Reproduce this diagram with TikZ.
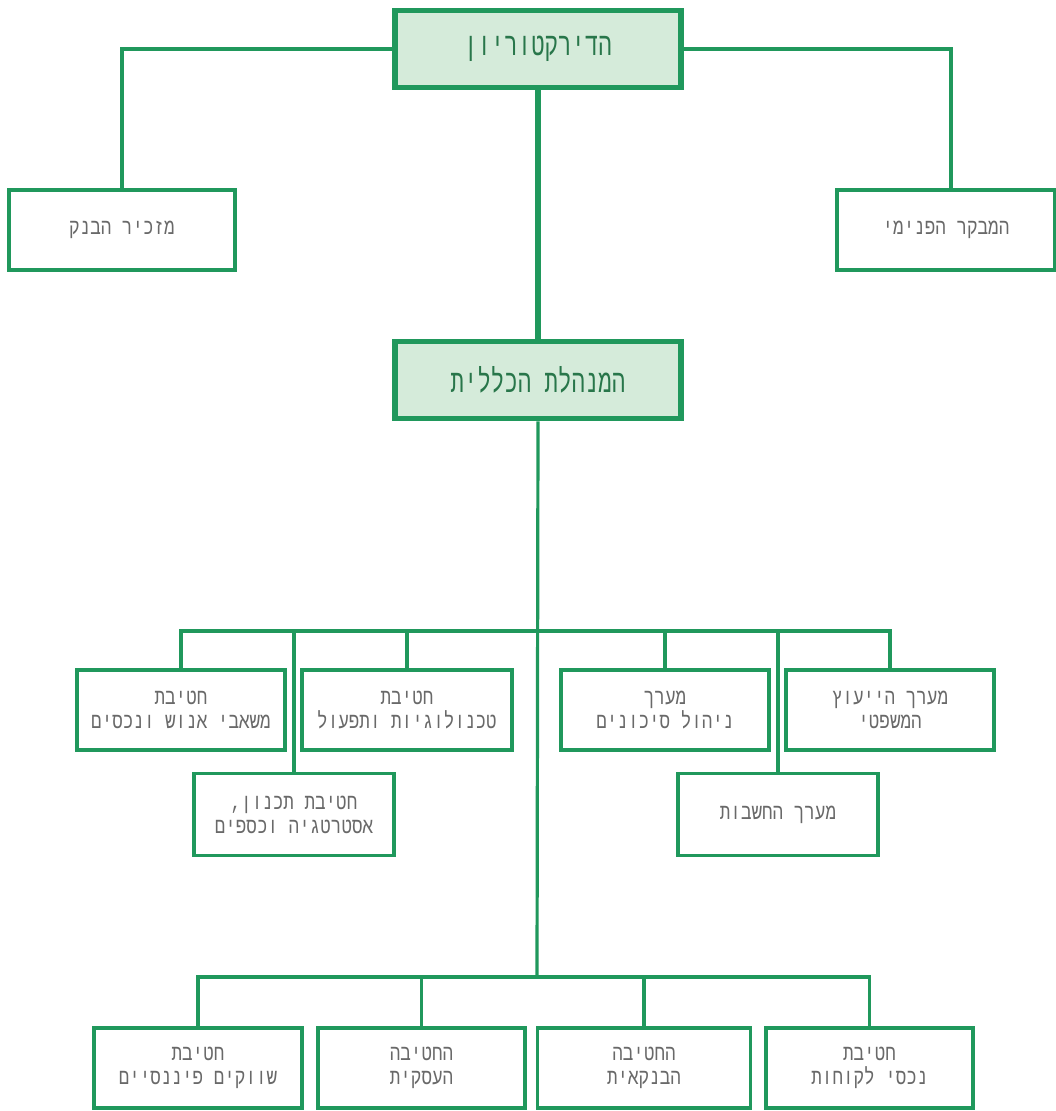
\documentclass[tikz,border=0pt]{standalone}
\usepackage{fontspec}
\TeXXeTstate=1
\newfontfamily\heb[Script=Hebrew,FakeStretch=0.8]{Liberation Mono}
\newfontfamily\hebtop[Script=Hebrew,FakeStretch=0.7]{Liberation Mono}
\definecolor{lgreen}{RGB}{32,152,92}
\definecolor{lfill}{RGB}{213,235,218}
\definecolor{toptext}{RGB}{40,118,74}
\definecolor{bodytext}{RGB}{105,105,105}
\tikzset{
  unitbox/.style={draw=lgreen, line width=3.4pt, fill=white, align=center, inner sep=0pt,
     font=\heb\fontsize{22}{24}\selectfont, text=bodytext},
  topbox/.style={draw=lgreen, line width=5.5pt, fill=lfill, align=center, inner sep=0pt,
     minimum width=286pt, minimum height=77pt,
     font=\hebtop\fontsize{32}{34}\selectfont, text=toptext},
  link/.style={draw=lgreen, line width=3.2pt},
  mainlink/.style={draw=lgreen, line width=5.5pt},
}
\begin{document}
\begin{tikzpicture}[x=1pt,y=-1pt]
\useasboundingbox (0,0) rectangle (1056,1111);
% top level
\node[topbox] (dir) at (538,49) {\beginR הדירקטוריון\endR};
\node[topbox] (gm) at (538,380) {\beginR המנהלת הכללית\endR};
\node[unitbox, minimum width=226pt, minimum height=80pt] (sec) at (122,230) {\beginR מזכיר הבנק\endR};
\node[unitbox, minimum width=218pt, minimum height=80pt] (aud) at (946,230) {\beginR המבקר הפנימי\endR};
\coordinate (audtop) at (951,190);
% middle row
\node[unitbox, minimum width=208pt, minimum height=80pt] (hr) at (181,710) {\beginR חטיבת\endR\\\beginR משאבי אנוש ונכסים\endR};
\node[unitbox, minimum width=210pt, minimum height=80pt] (tech) at (407,710) {\beginR חטיבת\endR\\\beginR טכנולוגיות ותפעול\endR};
\node[unitbox, minimum width=208pt, minimum height=80pt] (risk) at (665,710) {\beginR מערך\endR\\\beginR ניהול סיכונים\endR};
\node[unitbox, minimum width=208pt, minimum height=80pt] (legal) at (890,710) {\beginR מערך הייעוץ\endR\\\beginR המשפטי\endR};
\node[unitbox, minimum width=200pt, minimum height=82pt] (plan) at (294,814.5) {\beginR חטיבת תכנון,\endR\\\beginR אסטרטגיה וכספים\endR};
\node[unitbox, minimum width=200pt, minimum height=82pt] (acc) at (778,814.5) {\beginR מערך החשבות\endR};
% bottom row
\node[unitbox, minimum width=208pt, minimum height=80pt] (fin) at (198,1068) {\beginR חטיבת\endR\\\beginR שווקים פיננסיים\endR};
\node[unitbox, minimum width=207pt, minimum height=80pt] (biz) at (421.5,1068) {\beginR החטיבה\endR\\\beginR העסקית\endR};
\node[unitbox, minimum width=213pt, minimum height=80pt] (bank) at (644,1068) {\beginR החטיבה\endR\\\beginR הבנקאית\endR};
\node[unitbox, minimum width=207pt, minimum height=80pt] (cust) at (869.5,1068) {\beginR חטיבת\endR\\\beginR נכסי לקוחות\endR};
% bus coordinates
\coordinate (bus1) at (537,631);
\coordinate (bus2) at (537,977);
% connectors
\draw[link] (dir.west) -| (sec.north);
\draw[link] (dir.east) -| (audtop);
\draw[mainlink] (dir.south) -- (gm.north);
\draw[link] (gm.south) -- (bus2);
\draw[link] (hr.north) |- (bus1) -| (legal.north);
\draw[link] (tech.north) -- (tech.north |- bus1);
\draw[link] (plan.north) -- (plan.north |- bus1);
\draw[link] (risk.north) -- (risk.north |- bus1);
\draw[link] (acc.north) -- (acc.north |- bus1);
\draw[link] (fin.north) |- (bus2) -| (cust.north);
\draw[link] (biz.north) -- (biz.north |- bus2);
\draw[link] (bank.north) -- (bank.north |- bus2);
\end{tikzpicture}
\end{document}
